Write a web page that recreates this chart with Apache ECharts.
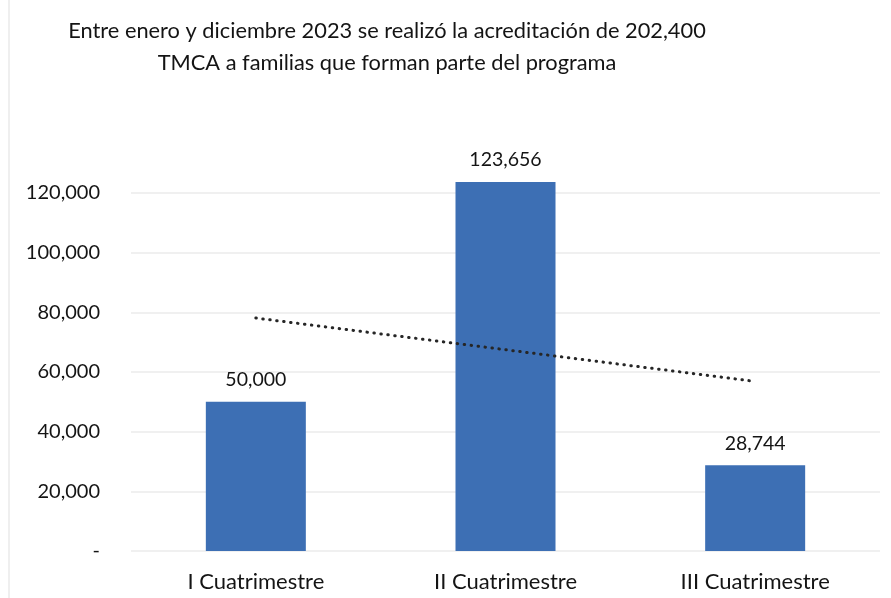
<!DOCTYPE html>
<html>
<head>
<meta charset="utf-8">
<script src="https://cdn.jsdelivr.net/npm/echarts@6/dist/echarts.min.js"></script>
<style>
html,body{margin:0;padding:0;background:#fff;}
#chart{width:891px;height:598px;}
</style>
</head>
<body>
<div id="chart"></div>
<script>
const titleLines = ['Entre enero y diciembre 2023 se realizó la acreditación de 202,400', 'TMCA a familias que forman parte del programa'];
const categories = ['I Cuatrimestre', 'II Cuatrimestre', 'III Cuatrimestre'];
const values = [50000, 123656, 28744];
const trendValues = [78095, 67467, 56839];
const yTicks = { min: 0, max: 120000, interval: 20000 };

const FONT = 'Lato';
const fmt = v => v === 0 ? '-' : v.toLocaleString('en-US');

const chart = echarts.init(document.getElementById('chart'));
chart.setOption({
  backgroundColor: '#ffffff',
  animation: false,
  title: {
    text: titleLines.join('\n'),
    left: 382,
    top: 10,
    textAlign: 'center',
    textStyle: { fontFamily: FONT, fontSize: 21.8, fontWeight: 'normal', color: '#141414', lineHeight: 32, align: 'center' }
  },
  graphic: [{
    type: 'line',
    shape: { x1: 9, y1: 0, x2: 9, y2: 598 },
    style: { stroke: '#efefef', lineWidth: 2 },
    silent: true
  }],
  grid: { left: 131, right: 11, top: 193, bottom: 47, containLabel: false },
  xAxis: {
    type: 'category',
    data: categories,
    axisLine: { show: false },
    axisTick: { show: false },
    axisLabel: { fontFamily: FONT, fontSize: 22, color: '#141414', margin: 20 }
  },
  yAxis: {
    type: 'value',
    min: yTicks.min, max: yTicks.max, interval: yTicks.interval,
    axisLine: { show: false },
    axisTick: { show: false },
    splitLine: { lineStyle: { color: '#ebebeb', width: 1.5 } },
    axisLabel: { fontFamily: FONT, fontSize: 20, color: '#141414', margin: 31, formatter: fmt }
  },
  series: [
    {
      type: 'bar',
      data: values,
      barWidth: 100,
      clip: false,
      itemStyle: { color: '#3d6fb4' },
      label: { show: true, position: 'top', distance: 12, fontFamily: FONT, fontSize: 19.5, color: '#141414', formatter: p => fmt(p.value) }
    },
    {
      type: 'line',
      data: trendValues,
      symbol: 'none',
      clip: false,
      lineStyle: { color: '#262626', width: 3, type: [0.5, 6.5], cap: 'round' },
      z: 5
    }
  ]
});
</script>
</body>
</html>
